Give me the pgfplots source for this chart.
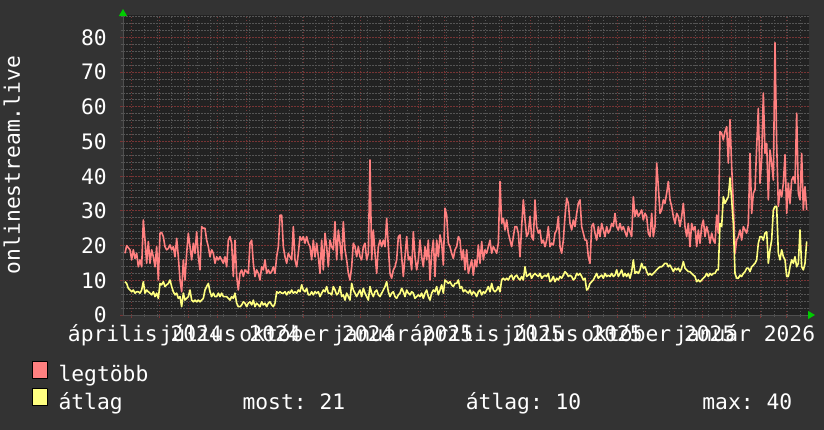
\documentclass[border=0pt]{standalone}
\usepackage{fontspec}
\setmainfont{DejaVu Sans Mono}
\usepackage{pgfplots}
\pgfplotsset{compat=1.18}
\usetikzlibrary{arrows.meta}
\definecolor{outerbg}{RGB}{51,51,51}
\definecolor{plotbg}{RGB}{34,34,34}
\definecolor{majgrid}{RGB}{120,52,52}
\definecolor{mingrid}{RGB}{85,85,85}
\definecolor{axgray}{RGB}{80,80,80}
\definecolor{arrgreen}{RGB}{0,204,0}
\definecolor{maxred}{RGB}{255,128,128}
\definecolor{avgyel}{RGB}{255,255,128}
\newcommand\rf{\fontsize{21.3bp}{25bp}\selectfont\frenchspacing}
\begin{document}
\frenchspacing
\begin{tikzpicture}
\fill[outerbg] (0,0) rectangle (824bp,430bp);
\useasboundingbox (0,0) rectangle (824bp,430bp);
\begin{axis}[
  at={(123bp,115bp)}, anchor=south west,
  scale only axis, width=686bp, height=300bp,
  xmin=69, xmax=2127, ymin=0, ymax=86.5,
  axis background/.style={fill=plotbg},
  axis lines=left,
  axis line style={draw=axgray, line width=1bp, -},
  x axis line style={-{Triangle[length=7bp,width=8bp,color=arrgreen]}, shorten >=-6bp},
  y axis line style={-{Triangle[length=7bp,width=8bp,color=arrgreen]}, shorten >=-6bp},
  xtick={95.1,179.4,266.7,351,438,525.3,609.6,696.6,780.9,868.2,955.2,1034.1,1121.1,1205.4,1292.7,1377,1464,1551.3,1635.6,1722.6,1806.9,1894.2,1981.2,2060.1},
  xticklabels={április 2024,,,július 2024,,,október 2024,,,január 2025,,,április 2025,,,július 2025,,,október 2025,,,január 2026,,},
  minor xtick={95.1,134.454,...,2110},
  ytick={0,10,...,80},
  yticklabels={0,10,20,30,40,50,60,70,80},
  minor ytick={2,4,...,86},
  grid=both,
  major grid style={draw=majgrid, line width=1bp, dash pattern=on 1.5bp off 1.5bp},
  minor grid style={draw=mingrid, line width=1bp, dash pattern=on 1.5bp off 1.5bp},
  tick align=outside,
  major tick length=3bp, minor tick length=2bp,
  every major tick/.append style={draw=majgrid, line width=1bp},
  every minor tick/.append style={draw=mingrid, line width=1bp},
  xticklabel style={font=\rf, text=white, anchor=base, inner sep=0pt, xshift=13.2bp, yshift=-23bp},
  yticklabel style={font=\rf, text=white, anchor=east, inner sep=0pt, xshift=-13bp},
  ylabel={onlinestream.live},
  ylabel style={font=\rf, text=white, at={(axis description cs:-0.15015,0.5)}, anchor=base, rotate=0},
  legend style={at={(axis description cs:-0.13338,-0.1527)}, anchor=north west, draw=none, fill=none,
    inner sep=0pt, outer sep=0pt, font=\rf, text=white, row sep=4.5bp, column sep=10.5bp,
    nodes={inner sep=0pt}},
  legend cell align=left,
]
\addplot[color=maxred, line width=1.6bp, line join=round,
  legend image code/.code={\draw[fill=maxred, draw=black, line width=0.8bp] (0bp,-3.5bp) rectangle (15.8bp,13.2bp);}]
coordinates {(75,17.8)(80,20.0)(90,18.8)(95,15.9)(100,18.8)(105,16.3)(110,17.8)(115,13.9)(120,15.9)(125,13.9)(130,27.4)(135,21.6)(140,14.9)(145,21.2)(150,14.9)(155,18.8)(160,16.8)(165,13.9)(170,19.7)(175,10.1)(180,23.6)(185,23.8)(190,22.6)(195,19.7)(200,18.8)(205,19.2)(210,20.2)(215,18.8)(220,19.7)(225,16.8)(230,22.1)(235,16.8)(240,10.1)(245,6.7)(250,15.9)(255,10.1)(260,17.8)(265,23.6)(270,19.7)(275,15.9)(280,20.7)(285,17.8)(290,24.0)(295,16.8)(300,13.0)(305,25.5)(310,25.0)(315,25.0)(320,21.6)(325,19.7)(330,16.8)(335,18.8)(340,17.8)(345,14.9)(350,16.8)(355,15.9)(360,16.8)(365,15.9)(370,14.9)(375,16.8)(380,13.9)(385,21.6)(390,22.6)(395,20.7)(400,11.1)(405,21.6)(410,11.1)(415,7.2)(420,12.0)(425,13.0)(430,11.1)(435,13.0)(440,12.5)(445,12.0)(450,20.7)(455,21.6)(460,14.9)(465,11.1)(470,13.0)(475,12.0)(480,10.1)(485,13.9)(490,13.0)(495,15.9)(500,12.0)(505,13.0)(510,12.0)(515,12.5)(520,13.9)(525,12.0)(530,16.8)(535,19.7)(540,28.8)(545,28.8)(550,19.7)(555,16.8)(560,14.9)(565,17.8)(570,16.8)(575,15.9)(580,25.5)(585,15.9)(590,13.9)(595,17.8)(600,22.6)(605,21.6)(610,22.6)(615,20.7)(620,22.6)(625,20.7)(630,19.7)(635,15.9)(640,21.6)(645,16.8)(650,20.7)(655,16.8)(660,12.0)(665,21.6)(670,13.0)(675,23.6)(680,19.7)(685,13.9)(690,21.6)(695,19.7)(700,18.8)(705,26.9)(710,15.9)(715,24.5)(720,20.7)(725,15.9)(730,26.9)(735,18.8)(740,15.9)(745,12.0)(750,10.1)(755,13.9)(760,20.7)(765,19.7)(770,16.8)(775,19.7)(780,16.8)(785,15.9)(790,19.7)(795,20.7)(800,15.9)(805,17.8)(810,44.7)(815,15.9)(820,24.5)(825,17.8)(830,12.0)(835,19.7)(840,21.6)(845,19.7)(850,21.6)(855,19.7)(860,27.9)(865,19.7)(870,12.0)(875,10.6)(880,13.0)(885,13.9)(890,15.9)(895,22.6)(900,23.1)
(905,16.8)(910,11.1)(915,16.8)(920,22.6)(925,15.9)(930,16.8)(935,13.0)(940,24.0)(945,16.8)(950,13.0)(955,15.9)(960,21.6)(965,16.8)(970,13.9)(975,19.7)(980,15.9)(985,21.6)(990,10.1)(995,17.8)(1000,21.6)(1005,11.1)(1010,21.6)(1015,16.8)(1020,23.1)(1025,20.7)(1030,14.4)(1035,30.8)(1040,28.8)(1045,20.7)(1050,19.7)(1055,17.8)(1060,16.3)(1065,18.8)(1070,19.7)(1075,22.6)(1080,21.6)(1085,15.9)(1090,18.8)(1095,13.0)(1100,18.8)(1105,12.0)(1110,13.9)(1115,15.9)(1120,11.5)(1125,15.9)(1130,13.9)(1135,20.2)(1140,14.9)(1145,21.2)(1150,15.9)(1155,18.8)(1160,17.8)(1165,19.7)(1170,21.6)(1175,17.8)(1180,19.7)(1185,18.8)(1190,17.8)(1195,20.7)(1200,38.5)(1205,26.4)(1210,27.9)(1215,24.5)(1220,27.4)(1225,23.6)(1230,21.6)(1235,19.7)(1240,22.6)(1245,25.5)(1250,25.5)(1255,23.6)(1260,16.8)(1265,25.5)(1270,33.2)(1275,27.4)(1280,22.6)(1285,23.6)(1290,28.4)(1295,22.6)(1300,21.6)(1305,33.2)(1310,25.5)(1315,23.6)(1320,24.5)(1325,20.7)(1330,21.6)(1335,19.7)(1340,21.6)(1345,25.5)(1350,19.7)(1355,20.7)(1360,20.2)(1365,23.6)(1370,24.5)(1375,28.4)(1380,19.7)(1385,17.8)(1390,21.6)(1395,28.4)(1400,33.7)(1405,32.2)(1410,26.4)(1415,24.5)(1420,27.4)(1425,25.5)(1430,29.3)(1435,32.2)(1440,33.2)(1445,25.5)(1450,23.6)(1455,21.6)(1460,21.6)(1465,16.8)(1470,14.9)(1475,25.5)(1480,26.4)(1485,23.6)(1490,21.6)(1495,25.5)(1500,22.6)(1505,26.4)(1510,24.5)(1515,22.6)(1520,25.5)(1525,23.6)(1530,24.5)(1535,26.4)(1540,25.5)(1545,29.3)(1550,25.5)(1555,24.5)(1560,26.4)(1565,24.5)(1570,25.5)(1575,24.0)(1580,22.6)(1585,25.5)(1590,24.0)(1595,22.6)(1600,34.1)(1605,28.4)(1610,30.3)(1615,28.4)(1620,29.3)(1625,30.3)(1630,27.4)(1635,29.3)(1640,28.4)(1645,23.6)(1650,22.6)(1655,29.3)(1660,22.6)(1665,25.5)(1670,43.8)(1675,37.0)(1680,29.3)(1685,30.3)(1690,33.2)(1695,32.2)(1700,35.1)(1705,38.5)(1710,33.2)(1715,31.3)(1720,28.4)(1725,26.4)(1730,29.3)(1735,28.4)(1740,25.5)(1745,28.4)(1750,32.2)(1755,25.5)(1760,22.6)(1765,26.4)(1770,19.7)(1775,26.4)(1780,24.5)(1785,25.5)(1790,19.7)(1795,24.5)(1800,20.7)(1805,25.5)(1810,27.4)(1815,22.6)(1820,25.5)(1825,23.6)(1830,20.7)(1835,23.6)(1840,21.6)(1845,20.7)(1850,28.8)(1855,23.6)(1860,52.9)(1865,52.4)(1870,50.5)(1875,52.9)(1880,54.3)(1885,43.8)(1890,56.3)(1895,42.8)(1900,32.2)(1905,17.8)(1910,21.6)(1915,22.6)(1920,24.5)(1925,21.6)(1930,25.5)(1935,24.5)(1940,23.6)(1945,26.4)(1950,46.6)(1955,29.3)(1960,35.1)(1965,36.1)(1970,48.6)(1975,59.6)(1980,38.0)(1985,44.7)(1990,64.0)(1995,46.6)(2000,49.5)(2005,33.2)(2010,47.6)(2015,43.8)(2020,38.9)(2025,78.5)(2030,49.5)(2035,31.3)(2040,36.1)(2045,34.1)(2050,38.0)(2055,46.2)(2060,29.3)(2065,38.0)(2070,32.2)(2075,38.9)(2080,39.9)(2085,38.0)(2090,58.2)(2095,35.1)(2100,33.2)(2105,46.6)(2110,30.3)(2115,37.0)(2120,30.3)};
\addlegendentry{legtöbb}
\addplot[color=avgyel, line width=1.6bp, line join=round,
  legend image code/.code={\draw[fill=avgyel, draw=black, line width=0.8bp] (0bp,-3.5bp) rectangle (15.8bp,13.2bp);}]
coordinates {(75,9.6)(80,9.1)(85,7.7)(90,7.2)(95,6.7)(100,7.2)(105,6.3)(110,6.7)(115,6.7)(120,6.3)(125,7.2)(130,9.6)(135,6.3)(140,7.2)(145,6.7)(150,6.3)(155,5.8)(160,6.7)(165,5.3)(170,6.3)(175,4.8)(180,9.1)(185,8.7)(190,9.6)(195,8.2)(200,8.7)(205,9.1)(210,10.1)(215,8.2)(220,6.7)(225,5.8)(230,6.3)(235,4.8)(240,5.3)(245,2.4)(250,6.3)(255,4.3)(260,4.8)(265,5.3)(270,7.2)(275,4.3)(280,3.8)(285,4.3)(290,3.8)(295,4.3)(300,3.8)(305,4.3)(310,4.8)(315,7.2)(320,8.2)(325,9.1)(330,6.7)(335,5.3)(340,6.3)(345,5.3)(350,5.3)(355,6.3)(360,5.3)(365,6.3)(370,5.3)(375,5.3)(380,5.3)(385,4.8)(390,4.3)(395,5.3)(400,4.8)(405,6.3)(410,3.4)(415,2.4)(420,2.4)(425,2.9)(430,3.8)(435,3.4)(440,2.4)(445,3.4)(450,3.8)(455,2.9)(460,4.3)(465,2.4)(470,3.4)(475,2.9)(480,2.4)(485,3.8)(490,2.9)(495,3.4)(500,2.4)(505,3.4)(510,3.8)(515,2.9)(520,2.4)(525,3.4)(530,6.7)(535,6.3)(540,6.7)(545,6.3)(550,6.3)(555,6.7)(560,5.8)(565,6.7)(570,6.3)(575,7.2)(580,6.3)(585,6.7)(590,6.3)(595,7.2)(600,6.7)(605,8.7)(610,7.2)(615,6.7)(620,7.7)(625,5.8)(630,5.8)(635,6.7)(640,5.8)(645,6.7)(650,6.3)(655,6.7)(660,5.3)(665,6.3)(670,7.2)(675,6.7)(680,8.2)(685,6.3)(690,6.3)(695,5.8)(700,8.2)(705,7.2)(710,5.8)(715,6.3)(720,8.2)(725,5.3)(730,5.8)(735,4.3)(740,6.3)(745,5.3)(750,4.3)(755,9.1)(760,7.2)(765,6.3)(770,5.3)(775,6.3)(780,7.2)(785,5.3)(790,7.7)(795,6.3)(800,5.3)(805,4.3)(810,8.2)(815,6.3)(820,5.3)(825,6.7)(830,7.2)(835,5.8)(840,5.3)(845,6.3)(850,7.2)(855,8.2)(860,9.6)(865,6.7)(870,5.3)(875,6.3)(880,6.7)(885,5.3)(890,4.8)(895,5.8)(900,6.3)
(905,7.7)(910,6.7)(915,5.3)(920,7.2)(925,6.3)(930,5.8)(935,6.7)(940,6.3)(945,4.8)(950,5.3)(955,5.8)(960,5.3)(965,6.3)(970,4.8)(975,6.3)(980,7.2)(985,5.3)(990,4.3)(995,6.3)(1000,7.2)(1005,6.7)(1010,8.2)(1015,5.8)(1020,7.2)(1025,8.7)(1030,6.3)(1035,10.1)(1040,9.6)(1045,9.1)(1050,9.6)(1055,8.7)(1060,8.2)(1065,9.1)(1070,9.1)(1075,10.1)(1080,7.7)(1085,8.2)(1090,6.7)(1095,7.2)(1100,6.7)(1105,6.3)(1110,7.2)(1115,5.8)(1120,6.7)(1125,6.3)(1130,5.3)(1135,6.7)(1140,7.2)(1145,5.8)(1150,6.7)(1155,6.3)(1160,7.2)(1165,8.2)(1170,6.7)(1175,9.1)(1180,7.2)(1185,6.7)(1190,7.2)(1195,8.2)(1200,6.7)(1205,10.1)(1210,10.6)(1215,10.1)(1220,10.6)(1225,10.1)(1230,11.1)(1235,11.5)(1240,10.1)(1245,11.1)(1250,11.5)(1255,10.6)(1260,10.1)(1265,11.1)(1270,10.1)(1275,13.9)(1280,11.1)(1285,11.5)(1290,12.0)(1295,10.6)(1300,11.5)(1305,12.0)(1310,11.5)(1315,11.1)(1320,12.0)(1325,10.6)(1330,11.1)(1335,11.5)(1340,11.1)(1345,12.0)(1350,9.6)(1355,10.1)(1360,11.1)(1365,9.6)(1370,10.6)(1375,10.1)(1380,11.1)(1385,10.6)(1390,11.5)(1395,12.5)(1400,12.0)(1405,11.1)(1410,11.5)(1415,11.1)(1420,10.1)(1425,10.6)(1430,12.0)(1435,11.5)(1440,12.0)(1445,11.1)(1450,10.1)(1455,10.6)(1460,7.2)(1465,7.7)(1470,9.1)(1475,9.6)(1480,10.1)(1485,11.1)(1490,12.0)(1495,10.6)(1500,11.1)(1505,11.5)(1510,10.6)(1515,12.0)(1520,11.1)(1525,11.5)(1530,11.1)(1535,12.0)(1540,11.1)(1545,11.5)(1550,13.0)(1555,11.1)(1560,12.0)(1565,13.0)(1570,11.1)(1575,12.0)(1580,11.1)(1585,12.0)(1590,10.6)(1595,12.5)(1600,15.9)(1605,12.0)(1610,12.5)(1615,12.0)(1620,13.0)(1625,14.9)(1630,13.5)(1635,13.9)(1640,12.5)(1645,11.5)(1650,12.0)(1655,11.5)(1660,12.0)(1665,12.5)(1670,13.0)(1675,13.5)(1680,13.9)(1685,13.9)(1690,14.4)(1695,14.9)(1700,14.9)(1705,13.9)(1710,14.4)(1715,13.5)(1720,12.5)(1725,13.5)(1730,13.0)(1735,13.5)(1740,12.5)(1745,13.5)(1750,15.4)(1755,13.5)(1760,13.0)(1765,12.5)(1770,12.5)(1775,12.0)(1780,11.5)(1785,11.1)(1790,9.6)(1795,10.1)(1800,9.6)(1805,10.1)(1810,10.6)(1815,11.1)(1820,12.0)(1825,11.1)(1830,12.0)(1835,11.5)(1840,12.0)(1845,12.0)(1850,13.0)(1855,13.0)(1860,26.4)(1865,25.5)(1870,34.1)(1875,32.2)(1880,33.2)(1885,34.1)(1890,39.5)(1895,33.2)(1900,26.4)(1905,12.0)(1910,10.6)(1915,10.6)(1920,11.5)(1925,11.1)(1930,12.0)(1935,12.5)(1940,13.5)(1945,13.5)(1950,12.5)(1955,13.9)(1960,14.4)(1965,14.9)(1970,15.9)(1975,20.7)(1980,22.6)(1985,22.6)(1990,21.6)(1995,23.6)(2000,24.0)(2005,14.9)(2010,18.8)(2015,21.6)(2020,30.3)(2025,31.3)(2030,31.3)(2035,17.8)(2040,15.9)(2045,18.8)(2050,16.8)(2055,15.9)(2060,11.1)(2065,11.1)(2070,13.9)(2075,15.9)(2080,14.9)(2085,16.8)(2090,13.9)(2095,14.9)(2100,24.5)(2105,13.9)(2110,13.0)(2115,14.9)(2120,21.2)};
\addlegendentry{\makebox[184bp][l]{átlag}\makebox[223.3bp][l]{most: 21}\makebox[236.5bp][l]{átlag: 10}max: 40}
\end{axis}
\end{tikzpicture}
\end{document}
